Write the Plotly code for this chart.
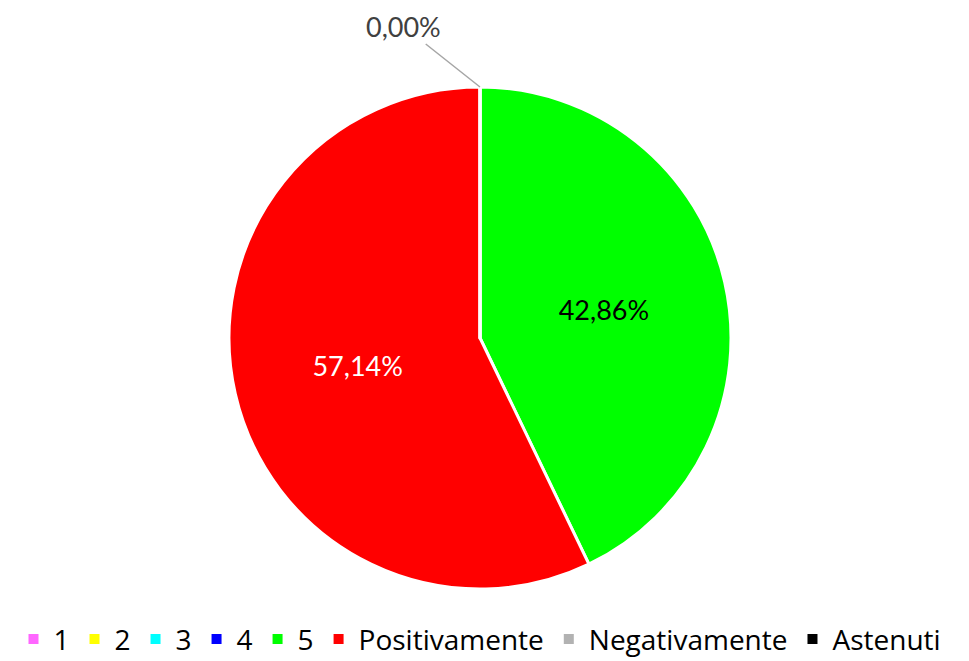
import plotly.graph_objects as go

labels = ["1", "2", "3", "4", "5", "Positivamente", "Negativamente", "Astenuti"]
values = [0, 0, 0, 0, 3, 4, 0, 0]
colors = ["#FF66FF", "#FFFF00", "#00FFFF", "#0000FF", "#00FF00", "#FF0000", "#B2B2B2", "#000000"]
text_colors = ["#000000", "#000000", "#000000", "#000000", "#000000", "#FFFFFF", "#000000", "#000000"]
zero_label = "0,00%"

FONT = "Lato, Open Sans, sans-serif"
LEGEND_FONT = "Open Sans, Lato, sans-serif"

fig = go.Figure(go.Pie(
    labels=labels,
    values=values,
    sort=False,
    direction="clockwise",
    rotation=0,
    marker=dict(colors=colors, line=dict(color="#FFFFFF", width=3)),
    textinfo="percent",
    texttemplate="%{percent:.2%}",
    textposition="inside",
    insidetextorientation="horizontal",
    textfont=dict(color=text_colors, size=27, family=FONT),
    domain=dict(x=[0, 1], y=[0, 1]),
    hoverinfo="label+percent",
))

fig.add_annotation(
    x=0.5, y=1.0, xref="paper", yref="paper",
    text=zero_label, showarrow=True, arrowhead=0, arrowwidth=1.5,
    arrowcolor="#A6A6A6", ax=-77, ay=-61,
    font=dict(size=27, color="#404040", family=FONT),
)

fig.update_layout(
    width=953, height=653,
    separators=",.",
    margin=dict(l=0, r=9, t=79, b=72, autoexpand=False),
    paper_bgcolor="#FFFFFF",
    plot_bgcolor="#FFFFFF",
    showlegend=True,
    legend=dict(
        orientation="h", x=0.5, xanchor="center", y=-0.1, yanchor="middle",
        font=dict(size=28, color="#000000", family=LEGEND_FONT),
        itemsizing="constant", traceorder="normal", itemwidth=30,
    ),
)

fig.write_html("out.html")
